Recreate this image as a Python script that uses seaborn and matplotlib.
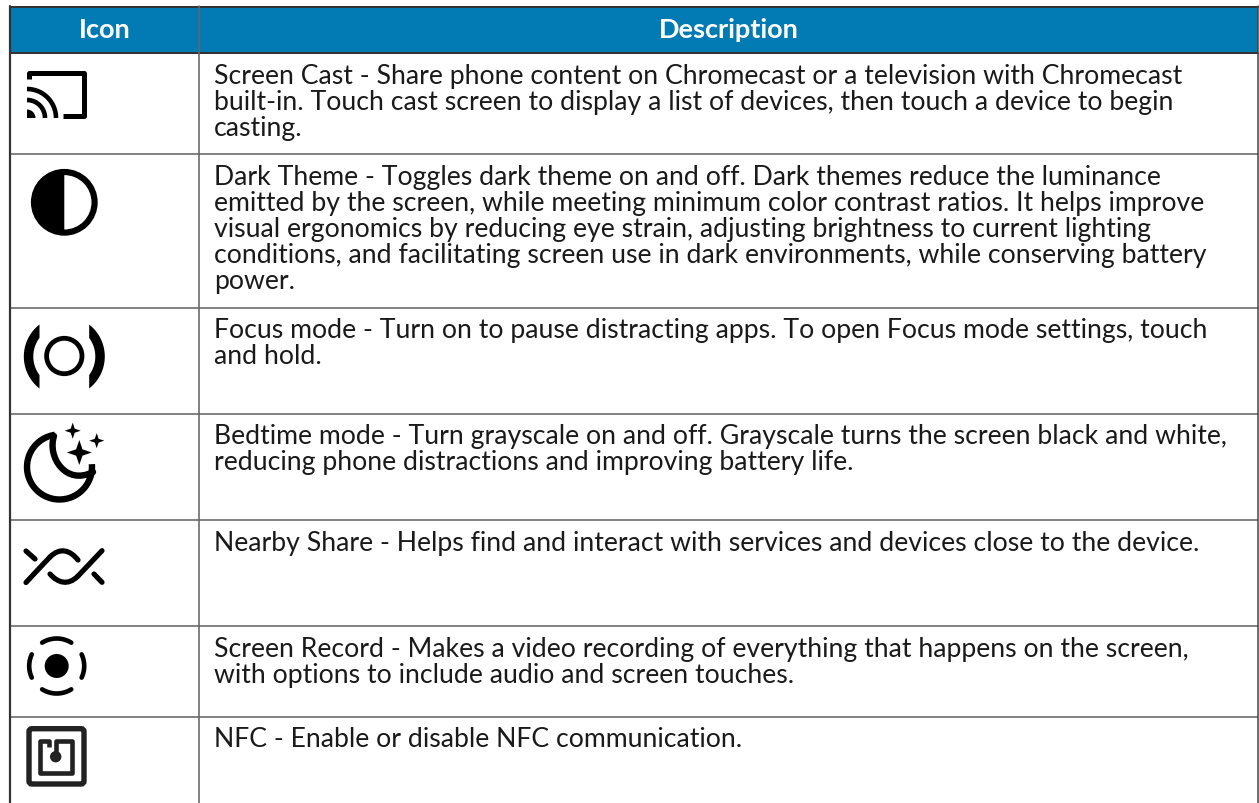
import numpy as np
import matplotlib
matplotlib.use("Agg")
import matplotlib.pyplot as plt
import seaborn as sns
from matplotlib.patches import Circle, FancyBboxPatch, Polygon, PathPatch, Rectangle, Wedge
from matplotlib.path import Path

# table content
header_labels = ["Icon", "Description"]
descriptions = [
    ["Screen Cast - Share phone content on Chromecast or a television with Chromecast",
     "built-in. Touch cast screen to display a list of devices, then touch a device to begin",
     "casting."],
    ["Dark Theme - Toggles dark theme on and off. Dark themes reduce the luminance",
     "emitted by the screen, while meeting minimum color contrast ratios. It helps improve",
     "visual ergonomics by reducing eye strain, adjusting brightness to current lighting",
     "conditions, and facilitating screen use in dark environments, while conserving battery",
     "power."],
    ["Focus mode - Turn on to pause distracting apps. To open Focus mode settings, touch",
     "and hold."],
    ["Bedtime mode - Turn grayscale on and off. Grayscale turns the screen black and white,",
     "reducing phone distractions and improving battery life."],
    ["Nearby Share - Helps find and interact with services and devices close to the device."],
    ["Screen Record - Makes a video recording of everything that happens on the screen,",
     "with options to include audio and screen touches."],
    ["NFC - Enable or disable NFC communication."],
]

# layout, in pixels of the 1259x804 image
row_edges = [154.5, 308.5, 414.5, 520.5, 626.5, 717.5]
first_baselines = [84, 185.5, 338, 444, 551, 657.5, 747]
line_step = 26
BLUE = "#027ab3"
INK = "#000000"
TEXT = "#1a1a1a"
FONT = "Lato"

sns.set_theme(style="white")
plt.rcParams["font.family"] = [FONT, "DejaVu Sans"]

fig = plt.figure(figsize=(12.59, 8.04), dpi=100, facecolor="white")
ax = fig.add_axes([0, 0, 1, 1])


def px(w):
    return w * 0.72


def rule(xs, ys, color, w):
    sns.lineplot(x=xs, y=ys, ax=ax, color=color, linewidth=px(w),
                 estimator=None, sort=False, legend=False, zorder=4)


def stroke(xs, ys, w, cap="butt", color=INK):
    ax.plot(xs, ys, color=color, lw=px(w), solid_capstyle=cap, solid_joinstyle="round", zorder=3)


def arc(cx, cy, r, a0, a1, w, cap="round"):
    t = np.radians(np.linspace(a0, a1, 40))
    stroke(cx + r * np.cos(t), cy + r * np.sin(t), w, cap)


def curve(verts, w):
    codes = [Path.MOVETO] + [Path.CURVE4] * (len(verts) - 1)
    ax.add_patch(PathPatch(Path(verts, codes), fc="none", ec=INK, lw=px(w), capstyle="round", zorder=3))


def star(cx, cy, r):
    pts = []
    for i in range(8):
        a = np.pi / 4 * i
        rr = r if i % 2 == 0 else r * 0.36
        pts.append((cx + rr * np.cos(a), cy + rr * np.sin(a)))
    ax.add_patch(Polygon(pts, fc=INK, ec="none", zorder=3))


def paren(cx, cy, r0, r1, xcut, side):
    # thick arc with its ends cut off vertically
    dx = abs(cx - xcut)
    out = np.arccos(dx / r1)
    inn = np.arccos(dx / r0)
    t1 = np.linspace(-out, out, 30)
    t0 = np.linspace(inn, -inn, 30)
    xs = np.r_[r1 * np.cos(t1), r0 * np.cos(t0)] * side + cx
    ys = np.r_[r1 * np.sin(t1), r0 * np.sin(t0)] + cy
    ax.add_patch(Polygon(np.c_[xs, ys], fc=INK, ec="none", zorder=3))


def icon_cast():
    stroke([29, 29, 84.5, 84.5, 63], [80, 73.5, 73.5, 117, 117], 5)
    arc(27, 119, 29, -90, 0, 4.6, "butt")
    arc(27, 119, 18, -90, 0, 4.6, "butt")
    ax.add_patch(Wedge((27, 119), 8.5, -90, 0, fc=INK, ec="none", zorder=3))


def icon_dark():
    ax.add_patch(Circle((64.3, 203.3), 30.3, fc="white", ec=INK, lw=px(6.2), zorder=3))
    ax.add_patch(Wedge((64.3, 203.3), 30.3, 90, 270, fc=INK, ec="none", zorder=3))


def icon_focus():
    ax.add_patch(Circle((64.3, 357), 17.7, fc="none", ec=INK, lw=px(4.8), zorder=3))
    paren(64.3, 357.5, 31, 40.5, 39.5, -1)
    paren(64.3, 357.5, 31, 40.5, 89.2, 1)


def icon_moon():
    t = np.radians(np.linspace(262, -5, 60))
    xs = 59.5 + 32.5 * np.cos(t)
    ys = 468 + 32.5 * np.sin(t)
    stroke(xs, ys, 6.4)
    curve([(54, 437), (47, 458), (66, 487), (93, 473)], 6.4)
    star(72.7, 431.7, 8)
    star(96.7, 441.7, 7.5)
    star(79.3, 453.5, 12.5)


def icon_nearby():
    curve([(26, 583.5), (36, 573), (44, 564), (50, 558)], 5.2)
    curve([(50, 558), (60, 548), (70, 551), (78, 561)], 5.2)
    curve([(102, 551.7), (92, 562), (84, 571), (78, 577)], 5.2)
    curve([(78, 577), (68, 587), (58, 584), (50, 575)], 5.2)
    stroke([26, 35], [552, 560], 5.2, "round")
    stroke([94, 102], [575, 583.3], 5.2, "round")


def icon_record():
    c = (56.7, 667)
    ax.add_patch(Circle(c, 12, fc=INK, ec="none", zorder=3))
    for mid in (-90, 90):
        arc(c[0], c[1], 27.5, mid - 32, mid + 32, 4.6)
    for mid in (0, 180):
        arc(c[0], c[1], 27.5, mid - 25, mid + 25, 4.6)


def icon_nfc():
    ax.add_patch(FancyBboxPatch((29, 729.7), 55, 55.3, boxstyle="round,pad=0,rounding_size=3",
                                fc="none", ec="#222222", lw=px(5.4), zorder=3))
    stroke([56, 56, 72.5, 72.5, 40.5, 40.5, 49, 49], [757, 741.5, 741.5, 773.5, 773.5, 741.5, 741.5, 748],
           4.6, color="#222222")
    ax.add_patch(Circle((55.7, 757.7), 5.7, fc="#222222", ec="none", zorder=3))


# header band and rules
ax.add_patch(Rectangle((10, 7), 1248, 46, fc=BLUE, ec="none", zorder=1))
rule([10, 1258], [7.5, 7.5], "#333333", 2)
rule([10, 1258], [53.5, 53.5], "#333333", 2)
for y in row_edges:
    rule([10, 1258], [y, y], "#666666", 1.6)
rule([10.5, 10.5], [7, 804], "#333333", 2.2)
rule([199.5, 199.5], [7, 804], "#666666", 1.6)
rule([1258, 1258], [7, 804], "#444444", 1.5)

ax.text(104.5, 29.5, header_labels[0], color="white", fontsize=19.5, fontweight="bold",
        ha="center", va="center")
ax.text(729, 29.5, header_labels[1], color="white", fontsize=19.5, fontweight="bold",
        ha="center", va="center")

for lines, y0 in zip(descriptions, first_baselines):
    for i, line in enumerate(lines):
        ax.text(214, y0 + i * line_step, line, color=TEXT, fontsize=19.15, ha="left", va="baseline")

icon_cast()
icon_dark()
icon_focus()
icon_moon()
icon_nearby()
icon_record()
icon_nfc()

ax.set_xlim(0, 1259)
ax.set_ylim(804, 0)
ax.axis("off")
fig.savefig("out.png", dpi=100, facecolor="white")
